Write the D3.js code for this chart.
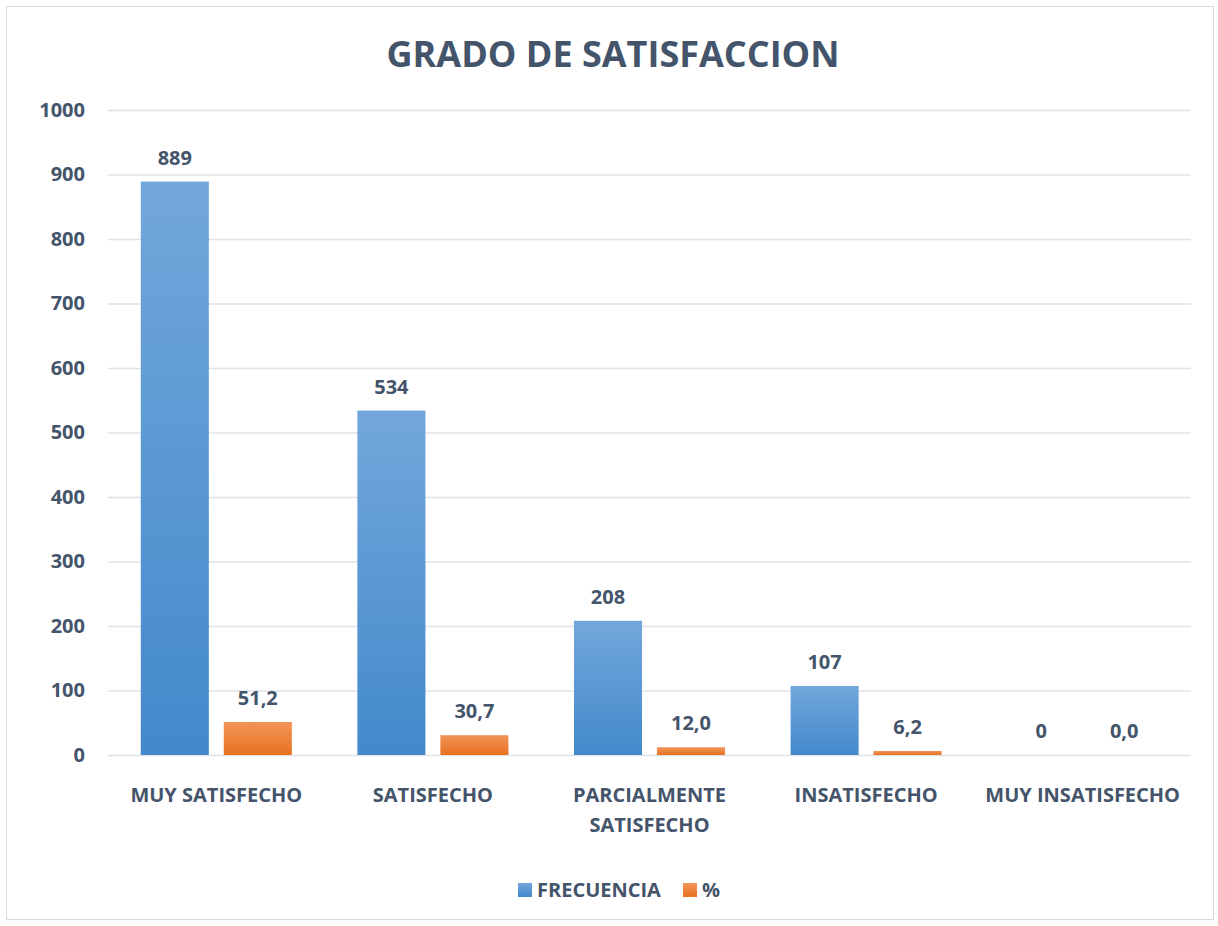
<!DOCTYPE html>
<html><head><meta charset="utf-8">
<script src="https://cdn.jsdelivr.net/npm/d3@7"></script>
<style>body{margin:0;background:#fff}svg{display:block}text{font-family:"Open Sans",sans-serif;font-weight:bold;fill:#44546A}</style>
</head><body><svg id="c" width="1218" height="926"></svg>
<script>
const categories = ["MUY SATISFECHO","SATISFECHO","PARCIALMENTE SATISFECHO","INSATISFECHO","MUY INSATISFECHO"];
const categoryLines = [["MUY SATISFECHO"],["SATISFECHO"],["PARCIALMENTE","SATISFECHO"],["INSATISFECHO"],["MUY INSATISFECHO"]];
const frecuencia = [889,534,208,107,0];
const porcentaje = [51.2,30.7,12.0,6.2,0.0];
const seriesNames = ["FRECUENCIA","%"];
const yTicks = [0,100,200,300,400,500,600,700,800,900,1000];

const svg = d3.select("#c");
const m={left:108,right:1191,top:110,bottom:755};
svg.append("rect").attr("x",6.5).attr("y",6.5).attr("width",1207).attr("height",913).attr("fill","#fff").attr("stroke","#d9d9d9");

const defs=svg.append("defs");
function grad(id,c1,c2){const g=defs.append("linearGradient").attr("id",id).attr("x1",0).attr("y1",0).attr("x2",0).attr("y2",1);
g.append("stop").attr("offset","0%").attr("stop-color",c1);g.append("stop").attr("offset","100%").attr("stop-color",c2);}
grad("gb","#72a7db","#4389cb");grad("go","#f29459","#e8711f");

const x=d3.scaleBand().domain(categories).range([m.left,m.right]).paddingInner(0).paddingOuter(0);
const y=d3.scaleLinear().domain([0,1000]).range([m.bottom,m.top]);
const inner=d3.scaleBand().domain(seriesNames).range([0,x.bandwidth()]).paddingInner(0.18).paddingOuter(0.395);

svg.append("g").selectAll("line").data(yTicks).join("line")
 .attr("x1",m.left).attr("x2",m.right).attr("y1",d=>y(d)+0.5).attr("y2",d=>y(d)+0.5)
 .attr("stroke","#dfe3e8").attr("stroke-width",1.5);

const ya=svg.append("g").attr("transform",`translate(${m.left},0)`).call(d3.axisLeft(y).tickValues(yTicks).tickFormat(d3.format("d")).tickSize(0).tickPadding(23));
ya.select(".domain").remove();
ya.selectAll("text").attr("font-size",20).attr("fill","#44546A").attr("font-family","Open Sans").attr("font-weight","bold");

const fmt1=d=>d.toFixed(1).replace(".",",");
const series=[{name:"FRECUENCIA",vals:frecuencia,fill:"url(#gb)",fmt:d=>String(d)},{name:"%",vals:porcentaje,fill:"url(#go)",fmt:fmt1}];
series.forEach(s=>{
 const g=svg.append("g");
 g.selectAll("rect").data(categories).join("rect")
  .attr("x",(c)=>x(c)+inner(s.name)).attr("width",inner.bandwidth())
  .attr("y",(c,i)=>y(s.vals[i])).attr("height",(c,i)=>y(0)-y(s.vals[i])).attr("fill",s.fill);
 g.selectAll("text").data(categories).join("text")
  .attr("x",(c)=>x(c)+inner(s.name)+inner.bandwidth()/2).attr("y",(c,i)=>y(s.vals[i])-17)
  .attr("text-anchor","middle").attr("font-size",20).text((c,i)=>s.fmt(s.vals[i]));
});

const xl=svg.append("g");
categories.forEach((c,i)=>{
 const t=xl.append("text").attr("x",x(c)+x.bandwidth()/2).attr("y",802).attr("text-anchor","middle").attr("font-size",20);
 categoryLines[i].forEach((ln,j)=>t.append("tspan").attr("x",x(c)+x.bandwidth()/2).attr("dy",j?30:0).text(ln));
});

svg.append("text").attr("x",613).attr("y",67).attr("text-anchor","middle").attr("font-size",36).text("GRADO DE SATISFACCION");

const lg=svg.append("g");
const lx=[518,683];
series.forEach((s,i)=>{
 lg.append("rect").attr("x",lx[i]).attr("y",883).attr("width",14).attr("height",14).attr("fill",s.fill);
 lg.append("text").attr("x",lx[i]+19).attr("y",897).attr("font-size",20).text(s.name);
});
</script></body></html>
